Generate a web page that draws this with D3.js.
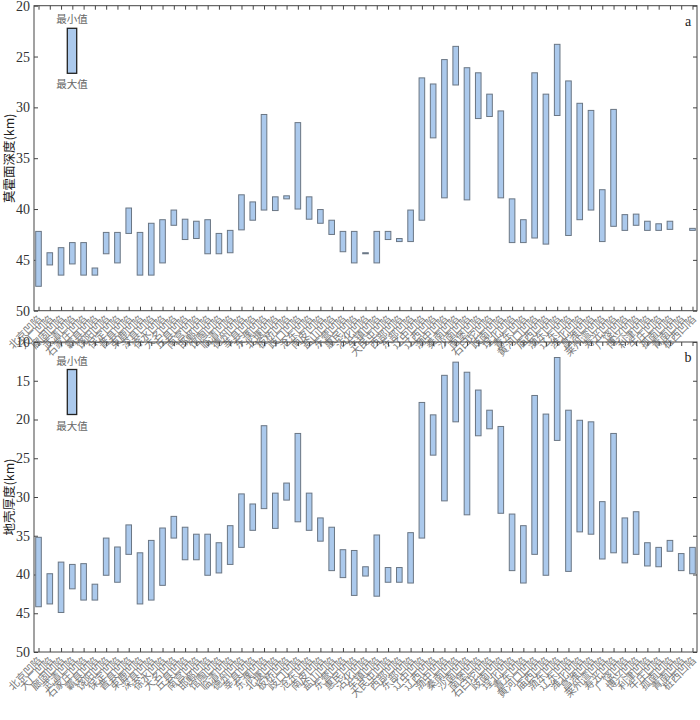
<!DOCTYPE html>
<html><head><meta charset="utf-8">
<script src="https://cdn.jsdelivr.net/npm/d3@7/dist/d3.min.js"></script>
<style>body{margin:0;background:#fff;}svg{display:block;}</style>
</head><body>
<svg id="c" width="700" height="720"></svg>
<script>
const categories = ["北京凹陷","大厂凹陷","廊固凹陷","武清凹陷","石家庄凹陷","霸县凹陷","饶阳凹陷","保定凹陷","晋县凹陷","束鹿凹陷",
"深县凹陷","徐水凹陷","大名凹陷","丘县凹陷","南宫凹陷","邯郸凹陷","馆陶凹陷","临清凹陷","德州凹陷","莘县凹陷",
"东濮凹陷","北塘凹陷","板桥凹陷","歧口凹陷","沧东凹陷","南皮凹陷","盐山凹陷","东营凹陷","惠民凹陷","沾化凹陷",
"车镇凹陷","大民屯凹陷","西部凹陷","东部凹陷","辽中凹陷","辽西凹陷","渤中凹陷","秦南凹陷","沙南凹陷","南堡凹陷",
"石臼坨凹陷","歧南凹陷","埕北凹陷","青东凹陷","黄河口凹陷","庙西凹陷","渤东凹陷","辽东凹陷","潍北凹陷","昌潍凹陷",
"莱州湾凹陷","寿光凹陷","广饶凹陷","博兴凹陷","利津凹陷","牛庄凹陷","孤南凹陷","青南凹陷","桩西凹陷"];
const mohoMin = [42.2,44.3,43.8,43.3,43.3,45.8,42.3,42.3,39.9,42.3,
41.4,41.05,40.1,41.0,41.2,41.05,42.4,42.1,38.6,39.3,
30.7,38.8,38.7,31.5,38.8,40.05,41.1,42.2,42.2,44.3,
42.2,42.2,42.9,40.1,27.1,27.7,25.3,24.0,26.1,26.6,
28.7,30.35,39.0,41.05,26.6,28.7,23.8,27.4,29.6,30.3,
38.1,30.2,40.55,40.5,41.2,41.45,41.2,null,41.9];
const mohoMax = [47.6,45.5,46.5,45.4,46.5,46.5,44.4,45.3,42.4,46.5,
46.5,45.3,41.6,43.0,42.9,44.4,44.4,44.3,42.05,41.1,
40.1,40.15,39.0,40.0,41.0,41.4,42.5,44.2,45.3,44.4,
45.3,43.0,43.2,43.2,41.1,33.0,38.9,27.8,39.1,31.1,
30.9,38.9,43.3,43.3,42.85,43.45,30.8,42.6,41.05,40.1,
43.2,41.7,42.1,41.6,42.1,42.1,42.0,null,42.1];
const crustMin = [35.2,39.9,38.4,38.7,38.6,41.25,35.3,36.45,33.6,37.2,
35.6,34.0,32.5,33.9,34.8,34.8,35.9,33.7,29.6,30.9,
20.8,29.5,28.2,21.8,29.5,32.7,33.9,36.8,36.9,39.0,
34.9,39.1,39.1,34.6,17.8,19.4,14.3,12.6,13.9,16.2,
18.8,20.9,32.2,33.7,16.9,19.3,12.0,18.8,20.1,20.3,
30.6,21.8,32.7,31.9,35.9,36.5,35.6,37.3,36.5];
const crustMax = [44.16,43.8,44.9,41.85,43.3,43.3,40.1,41.0,37.4,43.8,
43.3,41.4,35.3,38.1,38.1,40.1,39.8,38.7,36.5,34.3,
31.5,34.05,30.4,33.2,34.3,35.7,39.5,40.4,42.7,40.2,
42.8,41.0,41.0,41.1,35.3,24.6,30.5,20.3,32.3,22.1,
21.2,32.1,39.5,41.1,37.4,40.1,22.7,39.6,34.5,34.8,
38.0,37.2,38.5,37.4,38.9,39.0,37.0,39.5,39.9];
const mohoTicks = [20,25,30,35,40,45,50];
const crustTicks = [10,15,20,25,30,35,40,45,50];

const svg = d3.select("#c");
const L = 34, R = 697;
const x = d3.scalePoint().domain(categories).range([L, R]).padding(0.4);
const barW = 5.6;
const fill = "#abc9ec", stroke = "#6a7684", axisCol = "#444";

function panel(opt){
  const y = d3.scaleLinear().domain(opt.domain).range([opt.top, opt.bottom]);
  const g = svg.append("g");
  g.append("rect").attr("x", L).attr("y", opt.top).attr("width", R - L).attr("height", opt.bottom - opt.top)
    .attr("fill", "none").attr("stroke", axisCol).attr("stroke-width", 1);
  const yl = g.append("g").attr("transform", `translate(${L},0)`)
    .call(d3.axisLeft(y).tickValues(opt.ticks).tickSize(-4).tickPadding(4).tickFormat(d3.format("d")));
  const yr = g.append("g").attr("transform", `translate(${R},0)`)
    .call(d3.axisRight(y).tickValues(opt.ticks).tickSize(-4).tickFormat(""));
  const xt = g.append("g").attr("transform", `translate(0,${opt.top})`)
    .call(d3.axisTop(x).tickSize(-4).tickFormat(""));
  const xb = g.append("g").attr("transform", `translate(0,${opt.bottom})`)
    .call(d3.axisBottom(x).tickSize(-4).tickFormat(""));
  [yl, yr, xt, xb].forEach(a => {
    a.select(".domain").remove();
    a.selectAll(".tick line").attr("stroke", axisCol);
  });
  yl.selectAll("text").attr("font-family", "Liberation Serif, serif").attr("font-size", 14).attr("fill", "#333");
  g.append("g").selectAll("text").data(categories).join("text")
    .attr("transform", d => `translate(${x(d) - 1},${opt.bottom + 4}) rotate(-45)`)
    .attr("text-anchor", "end").attr("dy", "0.7em")
    .attr("font-family", "Noto Sans CJK SC, sans-serif").attr("font-size", 10.5).attr("fill", "#777")
    .text(d => d);
  const data = categories.map((c, i) => ({c, lo: opt.min[i], hi: opt.max[i]})).filter(d => d.lo != null);
  g.append("g").selectAll("rect").data(data).join("rect")
    .attr("x", d => x(d.c) - barW / 2).attr("width", barW)
    .attr("y", d => y(d.lo)).attr("height", d => Math.max(1, y(d.hi) - y(d.lo)))
    .attr("fill", fill).attr("stroke", stroke).attr("stroke-width", 1);
  g.append("text").attr("transform", `translate(10,${(opt.top + opt.bottom) / 2}) rotate(-90)`)
    .attr("text-anchor", "middle").attr("dy", "0.35em")
    .attr("font-family", "Noto Sans CJK SC, sans-serif").attr("font-size", 12.5).attr("fill", "#222")
    .text(opt.title);
  g.append("text").attr("x", 688).attr("y", opt.top + 20).attr("text-anchor", "middle")
    .attr("font-family", "Liberation Serif, serif").attr("font-size", 14).attr("fill", "#222").text(opt.letter);
  const lx = 72, lt = opt.top + opt.legTop;
  g.append("text").attr("x", lx).attr("y", lt - 5).attr("text-anchor", "middle")
    .attr("font-family", "Noto Sans CJK SC, sans-serif").attr("font-size", 10.5).attr("fill", "#666").text("最小值");
  g.append("rect").attr("x", lx - 4.7).attr("y", lt).attr("width", 9.4).attr("height", 45)
    .attr("fill", fill).attr("stroke", "#222").attr("stroke-width", 1.3);
  g.append("text").attr("x", lx).attr("y", lt + 45 + 15).attr("text-anchor", "middle")
    .attr("font-family", "Noto Sans CJK SC, sans-serif").attr("font-size", 10.5).attr("fill", "#666").text("最大值");
}

panel({domain:[20,50], top:5.7, bottom:310.7, ticks:mohoTicks, min:mohoMin, max:mohoMax,
  title:"莫霍面深度(km)", letter:"a", legTop:22.6});
panel({domain:[10,50], top:342, bottom:652, ticks:crustTicks, min:crustMin, max:crustMax,
  title:"地壳厚度(km)", letter:"b", legTop:27.5});
</script>
</body></html>
